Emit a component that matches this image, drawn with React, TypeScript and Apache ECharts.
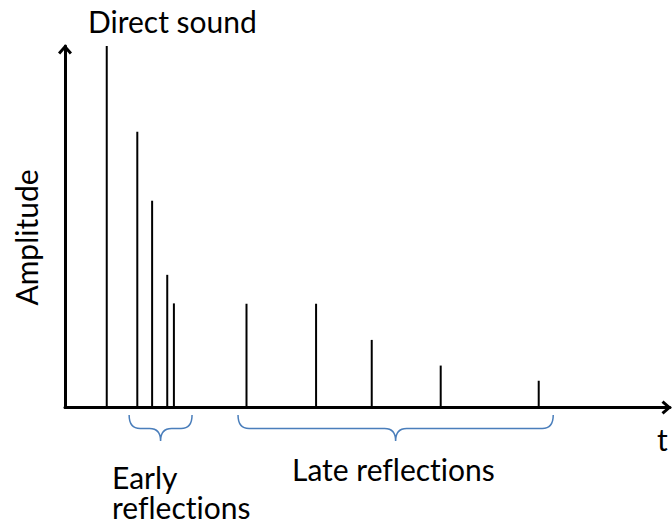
import React, { useEffect, useRef } from "react";
import * as echarts from "echarts";

// Impulse response: arrival times (arbitrary units) and amplitudes (relative to direct sound)
const stemTimes = [6.9, 11.95, 14.4, 16.9, 18.0, 30.0, 41.5, 50.7, 62.1, 78.3];
const stemAmplitudes = [1.0, 0.763, 0.572, 0.367, 0.288, 0.287, 0.287, 0.187, 0.116, 0.074];

// Brace groups (time ranges)
const braceStart = [10.6, 28.6];
const braceEnd = [21.0, 80.7];

const xMax = 100;
const yMax = 1;

const FONT = "Lato";
const FS = 30;

const arrowPath =
  "path://M7,0 L14,8 L11.8,10 L7,4.4 L2.2,10 L0,8 Z";

const css = `#root text, #root tspan, svg text, svg tspan {
  font-variant-ligatures: none !important;
  font-feature-settings: "liga" 0, "clig" 0, "dlig" 0 !important;
}`;

export default function App() {
  const ref = useRef<HTMLDivElement>(null);
  useEffect(() => {
    if (!ref.current) return;
    const chart = echarts.init(ref.current, null, { renderer: "svg" });
    const stemData = stemTimes.map((t, i) => [t, stemAmplitudes[i]]);
    const braceData = braceStart.map((s, i) => [s, braceEnd[i]]);
    const axisCommon = {
      axisTick: { show: false },
      axisLabel: { show: false },
      splitLine: { show: false },
      axisLine: {
        show: true,
        symbol: ["none", arrowPath],
        symbolSize: [14, 11],
        symbolOffset: [0, -3.5],
        lineStyle: { color: "#000", width: 3 },
      },
    };
    const textStyle = (extra: any) => ({
      font: `${FS}px ${FONT}`,
      fill: "#000",
      ...extra,
    });
    chart.setOption({
      animation: false,
      grid: { left: 65, right: 2, top: 46, bottom: 117.5 },
      xAxis: { type: "value", min: 0, max: xMax, ...axisCommon },
      yAxis: { type: "value", min: 0, max: yMax, ...axisCommon },
      series: [
        {
          type: "custom",
          data: stemData,
          encode: { x: 0, y: 1 },
          silent: true,
          renderItem: (params: any, api: any) => {
            const b = api.coord([api.value(0), 0]);
            const t = api.coord([api.value(0), api.value(1)]);
            return {
              type: "line",
              shape: { x1: b[0], y1: b[1], x2: t[0], y2: t[1] },
              style: { stroke: "#000", lineWidth: 2 },
            };
          },
        },
        {
          type: "custom",
          data: braceData,
          encode: { x: [0, 1] },
          silent: true,
          clip: false,
          renderItem: (params: any, api: any) => {
            const a = api.coord([api.value(0), 0]);
            const b = api.coord([api.value(1), 0]);
            const y0 = a[1];
            const top = y0 + 7.5;
            const mid = y0 + 21;
            const tip = y0 + 33.5;
            const x1 = a[0];
            const x2 = b[0];
            const mx = (x1 + x2) / 2;
            const r = 11;
            const d = `M${x1},${top} Q${x1},${mid} ${x1 + r},${mid} L${mx - r},${mid} Q${mx},${mid} ${mx},${tip} Q${mx},${mid} ${mx + r},${mid} L${x2 - r},${mid} Q${x2},${mid} ${x2},${top}`;
            return {
              type: "path",
              shape: { pathData: d },
              style: { fill: "none", stroke: "#4A7EBB", lineWidth: 1.5 },
            };
          },
        },
      ],
      graphic: [
        { type: "text", x: 88, y: 21, style: textStyle({ text: "Direct sound", verticalAlign: "middle", align: "left" }) },
        {
          type: "text",
          x: 26,
          y: 237.5,
          rotation: Math.PI / 2,
          style: textStyle({ text: "Amplitude", verticalAlign: "middle", align: "center" }),
        },
        { type: "text", x: 657, y: 439, style: textStyle({ text: "t", verticalAlign: "middle", align: "left" }) },
        {
          type: "text",
          x: 112,
          y: 492,
          style: textStyle({ text: "Early\nreflections", lineHeight: 30, verticalAlign: "middle", align: "left" }),
        },
        { type: "text", x: 292, y: 469, style: textStyle({ text: "Late reflections", verticalAlign: "middle", align: "left" }) },
      ],
    });
    return () => chart.dispose();
  }, []);
  return (
    <>
      <style>{css}</style>
      <div
        ref={ref}
        style={{
          position: "fixed",
          left: 0,
          top: 0,
          width: 672,
          height: 525,
          background: "#fff",
        }}
      />
    </>
  );
}
